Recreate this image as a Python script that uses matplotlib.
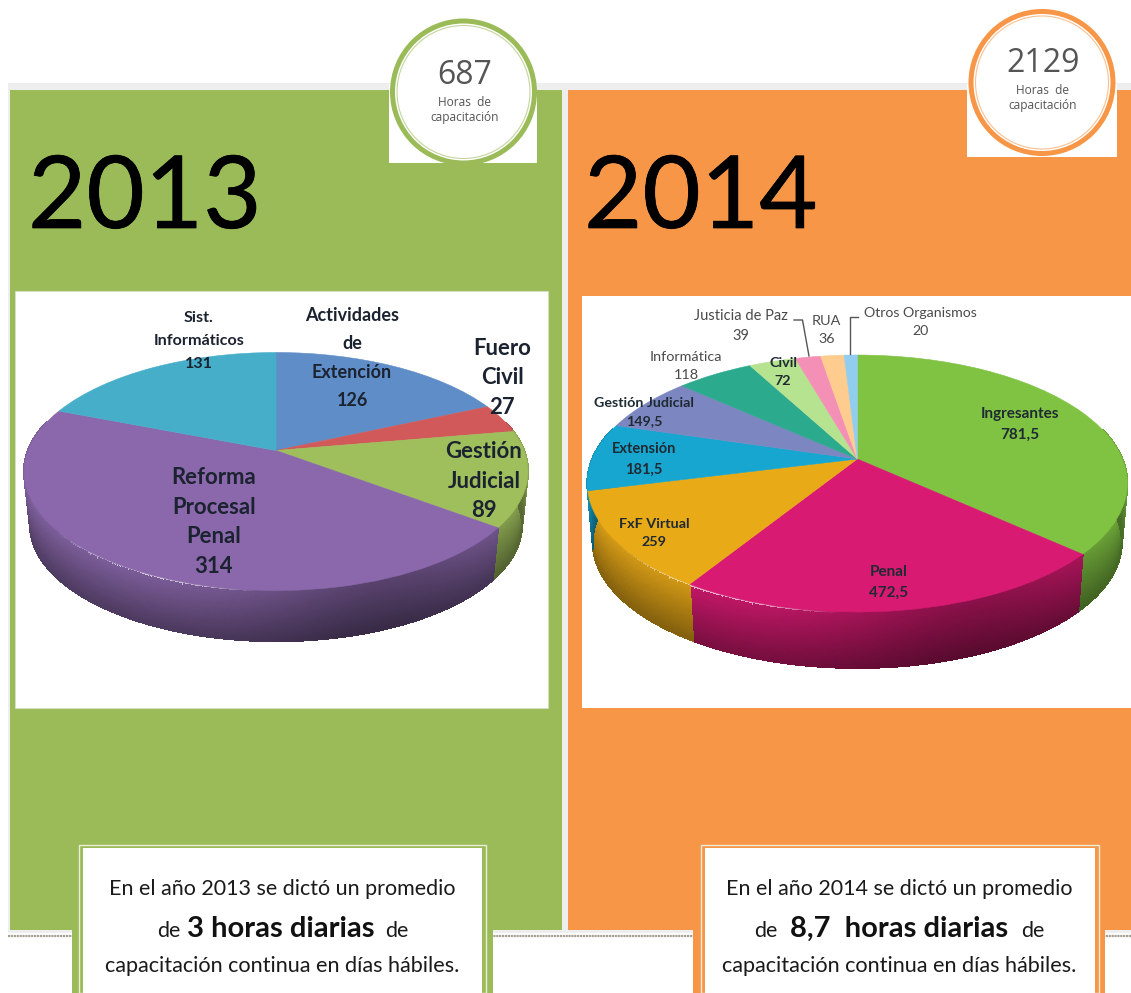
#!/usr/bin/env python3

import numpy as np
import matplotlib
matplotlib.use("Agg")
import matplotlib.pyplot as plt
import matplotlib.patheffects as pe
from matplotlib.collections import PolyCollection
from matplotlib.colors import to_rgb
from matplotlib.patches import Circle, Rectangle
from matplotlib.transforms import Transform

plt.rcParams['font.family'] = ['Lato', 'DejaVu Sans']

WIDTH = 1131
HEIGHT = 993

GREEN = '#9bbb59'
ORANGE = '#f79646'

years = ['2013', '2014']
total_hours = ['687', '2129']

values_2013 = [126, 27, 89, 314, 131]
colors_2013 = ['#5f8dc8', '#d2595a', '#9fbe5c', '#8a68ab', '#47aeca']
labels_2013 = ['Actividades\nde\nExtención\n126', 'Fuero\nCivil\n27', 'Gestión\nJudicial\n89',
               'Reforma\nProcesal\nPenal\n314', 'Sist.\nInformáticos\n131']

values_2014 = [781.5, 472.5, 259, 181.5, 149.5, 118, 72, 39, 36, 20]
colors_2014 = ['#80c343', '#d81a72', '#e9aa18', '#17a6d0', '#7c86c0',
               '#2baa8e', '#b5e38f', '#f490b6', '#fdcc8e', '#90cdee']
labels_2014 = ['Ingresantes\n781,5', 'Penal\n472,5', 'FxF Virtual\n259', 'Extensión\n181,5',
               'Gestión Judicial\n149,5', 'Informática\n118', 'Civil\n72',
               'Justicia de Paz\n39', 'RUA\n36', 'Otros Organismos\n20']


class Perspective(Transform):
    # flat unit circle seen from above and in front, goes to canvas pixels
    input_dims = 2
    output_dims = 2
    is_separable = False
    has_inverse = False

    def __init__(self, cx, cy, a, b, p):
        super().__init__()
        self.cx, self.cy, self.a, self.b, self.p = cx, cy, a, b, p

    def transform_non_affine(self, values):
        values = np.asarray(values)
        w = 1 + self.p * values[:, 1]
        return np.column_stack([self.cx + self.a * values[:, 0] / w,
                                self.cy - self.b * values[:, 1] / w])


def draw_side(ax, wedge, base, persp, scale, depth):
    # the rim of the disc, one small shaded quad per angle and height step
    t1 = wedge.theta1 % 360
    t2 = t1 + (wedge.theta2 - wedge.theta1)
    angles = np.radians(np.linspace(t1, t2, int((t2 - t1) * 1.5) + 2))
    rim = persp.transform_non_affine(np.column_stack([np.cos(angles), np.sin(angles)]))
    low = rim.copy()
    low[:, 0] = persp.cx + scale * (rim[:, 0] - persp.cx)
    low[:, 1] = persp.cy + scale * (rim[:, 1] - persp.cy) + depth
    steps = np.linspace(0, 1, 25)
    base = np.array(to_rgb(base))
    polys = []
    faces = []
    for i in range(len(angles) - 1):
        u = np.cos((angles[i] + angles[i + 1]) / 2)
        if np.sin((angles[i] + angles[i + 1]) / 2) > 0.25:
            continue
        for j in range(len(steps) - 1):
            f0, f1 = steps[j], steps[j + 1]
            polys.append([rim[i] + f0 * (low[i] - rim[i]), rim[i + 1] + f0 * (low[i + 1] - rim[i + 1]),
                          rim[i + 1] + f1 * (low[i + 1] - rim[i + 1]), rim[i] + f1 * (low[i] - rim[i])])
            shade = (0.9 - 0.34 * f0) * (1 - 0.28 * np.exp(-((u - 0.35) / 0.45) ** 2))
            color = base * shade
            if j == 0:
                glow = 0.7 * max(0.0, 1 - ((u + 0.42) / 0.36) ** 2)
                color = color + (1 - color) * glow
            faces.append(np.clip(color, 0, 1))
    ax.add_collection(PolyCollection(polys, facecolors=faces, edgecolors=faces, linewidths=0.8,
                                     antialiaseds=False, zorder=3))


def draw_pie(ax, values, colors, persp, scale, depth):
    wedges, _ = ax.pie(values, colors=colors, startangle=90, counterclock=False)
    for wedge, color in zip(wedges, colors):
        wedge.set_transform(persp + ax.transData)
        wedge.set_edgecolor(color)
        wedge.set_linewidth(0.4)
        wedge.set_zorder(4)
        draw_side(ax, wedge, color, persp, scale, depth)


def draw_badge(ax, x0, x1, y1, cx, cy, color, number, ny, ly1, ly2):
    ax.add_patch(Rectangle((x0, 84), x1 - x0, y1 - 84, facecolor='white', edgecolor='none', zorder=5))
    ax.add_patch(Circle((cx, cy), 71, facecolor='white', edgecolor=color, linewidth=3.6, zorder=5))
    ax.add_patch(Circle((cx, cy), 66.5, facecolor='none', edgecolor=color, linewidth=0.8, alpha=0.6, zorder=5))
    ax.text(cx + 1, ny, number, fontsize=23, family='Open Sans', color='#555555', ha='center', va='center', zorder=6)
    ax.text(cx + 1, ly1, 'Horas  de', fontsize=8.6, family='Open Sans', color='#555555', ha='center', va='center', zorder=6)
    ax.text(cx + 1, ly2, 'capacitación', fontsize=8.6, family='Open Sans', color='#555555', ha='center', va='center', zorder=6)


def draw_note(ax, color, x0, x1, wx0, wx1, cx, line1, line2, de1, bold, bx, de2):
    ax.add_patch(Rectangle((x0, 930), x1 - x0, HEIGHT - 930, facecolor=color, edgecolor='none', zorder=5))
    ax.add_patch(Rectangle((wx0 - 4, 845), wx1 - wx0 + 8, HEIGHT - 845, facecolor='none', edgecolor='#e8eed8', linewidth=1, zorder=5))
    ax.add_patch(Rectangle((wx0, 848), wx1 - wx0, HEIGHT - 848, facecolor='white', edgecolor='none', zorder=5))
    ax.text(cx, 889, line1, fontsize=15.5, color='#1a1a1a', ha='center', va='center', zorder=6)
    ax.text(de1, 937, 'de', fontsize=15.5, color='#1a1a1a', ha='left', va='baseline', zorder=6)
    ax.text(bx, 937, bold, fontsize=21, fontweight='bold', color='#111111', ha='left', va='baseline', zorder=6)
    ax.text(de2, 937, 'de', fontsize=15.5, color='#1a1a1a', ha='left', va='baseline', zorder=6)
    ax.text(cx, 966, line2, fontsize=15.6, color='#1a1a1a', ha='center', va='center', zorder=6)


fig = plt.figure(figsize=(WIDTH / 100, HEIGHT / 100), dpi=100)
ax = fig.add_axes([0, 0, 1, 1])

# Panels behind everything
ax.add_patch(Rectangle((8, 83), WIDTH - 8, 850, facecolor='#eeeeee', edgecolor='none', zorder=0))
ax.add_patch(Rectangle((10, 90), 552, 840, facecolor=GREEN, edgecolor='none', zorder=1))
ax.add_patch(Rectangle((568, 90), WIDTH - 568, 840, facecolor=ORANGE, edgecolor='none', zorder=1))
ax.plot([8, WIDTH], [935.5, 935.5], color='#a8a294', linewidth=1.6, linestyle=(0, (1, 0.3)), zorder=1)

ax.add_patch(Rectangle((15, 291), 533, 417, facecolor='white', edgecolor='#d8dfc8', linewidth=0.6, zorder=2))
ax.add_patch(Rectangle((582, 296), WIDTH - 582, 412, facecolor='white', edgecolor='none', zorder=2))

thicker = [pe.withStroke(linewidth=0.5, foreground='black')]
ax.text(28, 228, years[0], fontsize=72.5, color='black', ha='left', va='baseline', zorder=6, path_effects=thicker)
ax.text(584, 228, years[1], fontsize=72.5, color='black', ha='left', va='baseline', zorder=6, path_effects=thicker)

# Pies
persp_2013 = Perspective(276, 450.5, 248, 115.3, 0.1765)
persp_2014 = Perspective(857.3, 459, 265, 123.8, 0.1906)
draw_pie(ax, values_2013, colors_2013, persp_2013, 0.976, 54)
draw_pie(ax, values_2014, colors_2014, persp_2014, 0.98, 59)

# Pie labels
pos_2013 = [(352, 358), (502, 378), (484, 481), (214, 522), (199, 341)]
sizes_2013 = [13, 15.9, 15.9, 15.9, 11.6]
spacing_2013 = [1.83, 1.5, 1.5, 1.5, 1.85]
for label, (x, y), size, spacing in zip(labels_2013, pos_2013, sizes_2013, spacing_2013):
    ax.text(x, y, label, fontsize=size, fontweight='bold', color='#1b2230', ha='center', va='center',
            linespacing=spacing, zorder=6)

pos_2014 = [(1020, 424), (889, 582), (654, 533), (644, 459), (644, 412),
            (686, 366), (783, 372), (741, 326), (826.5, 330), (920.5, 322)]
sizes_2014 = [11, 11, 10.4, 10.5, 10.3, 10.4, 10.4, 10.5, 10.4, 10.2]
bold_2014 = ['Ingresantes', 'Penal', 'FxF', 'Extensión', 'Gestión', 'Civil']
for label, (x, y), size in zip(labels_2014, pos_2014, sizes_2014):
    is_bold = label.startswith(tuple(bold_2014))
    ax.text(x, y, label, fontsize=size, fontweight='bold' if is_bold else 'normal',
            color='#1f2a33' if is_bold else '#4a4a4a', ha='center', va='center', linespacing=1.6, zorder=6)

ax.plot([794, 802.5, 809], [320, 320, 356], color='#555555', linewidth=1, zorder=6)
ax.plot([858, 850, 850], [317, 317, 354], color='#555555', linewidth=1, zorder=6)

# Circles on top of the panels
draw_badge(ax, 389, 537, 163, 463.5, 92, GREEN, total_hours[0], 75, 103, 117)
draw_badge(ax, 967, 1117, 157, 1042, 82.5, ORANGE, total_hours[1], 63, 90, 105)

# Notes at the bottom
draw_note(ax, GREEN, 72, 493, 83, 482, 282, 'En el año 2013 se dictó un promedio',
          'capacitación continua en días hábiles.', 157, '3 horas diarias', 187, 385)
draw_note(ax, ORANGE, 693, 1105, 705, 1095, 899, 'En el año 2014 se dictó un promedio',
          'capacitación continua en días hábiles.', 754, '8,7  horas diarias', 790, 1021)

ax.set_aspect('auto')
ax.set_xlim(0, WIDTH)
ax.set_ylim(HEIGHT, 0)
ax.axis('off')

fig.savefig('out.png', dpi=100)
plt.close(fig)
